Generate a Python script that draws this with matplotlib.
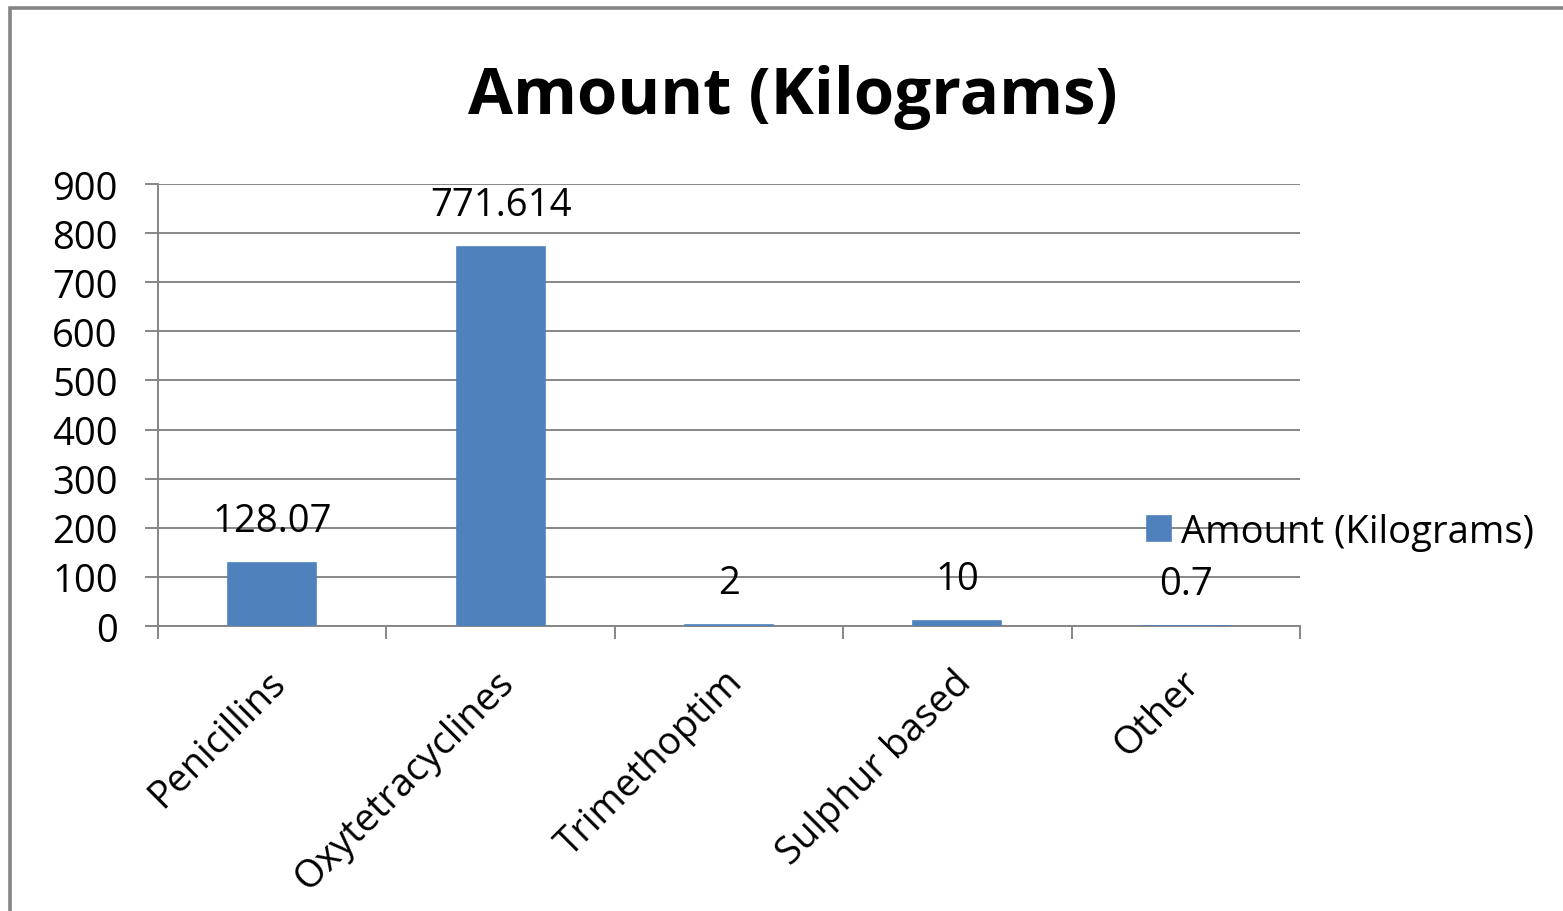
import matplotlib.pyplot as plt
from matplotlib.patches import Rectangle
from matplotlib.transforms import ScaledTranslation
import numpy as np

# data
categories = ['Penicillins', 'Oxytetracyclines', 'Trimethoptim', 'Sulphur based', 'Other']
amounts = [128.07, 771.614, 2, 10, 0.7]
value_labels = ['128.07', '771.614', '2', '10', '0.7']
yticks = [0, 100, 200, 300, 400, 500, 600, 700, 800, 900]

plt.rcParams['font.family'] = ['Open Sans', 'DejaVu Sans']
W, H = 1563, 912
fig = plt.figure(figsize=(W / 100, H / 100), dpi=100)
px = 72 / 100  # one pixel in points
fs = 27.5

# outer chart border
fig.patches.append(Rectangle((9.5 / W, -0.1), 1.2, 1 - 8.5 / H + 0.1, transform=fig.transFigure,
                             fill=False, edgecolor='#858585', linewidth=2.6))

ax = fig.add_axes([158 / W, 1 - 627 / H, (1300 - 158) / W, (627 - 185) / H])
grey = '#868686'
blue = '#4F81BD'
x = np.arange(len(categories))
bars = ax.bar(x, amounts, width=0.385, color=blue, edgecolor=blue, linewidth=1.2,
              label='Amount (Kilograms)', zorder=3)

ax.set_xlim(-0.5, len(categories) - 0.5)
ax.set_ylim(0, 900)
ax.set_yticks(yticks)
ax.set_yticklabels([str(t) for t in yticks], fontsize=fs)
ax.yaxis.grid(True, color=grey, linewidth=1.4)
ax.set_axisbelow(True)

# tick marks at category boundaries, labels at centres
ax.set_xticks(np.arange(-0.5, len(categories), 1.0))
ax.set_xticklabels([])
ax.set_xticks(x, minor=True)
ax.set_xticklabels(categories, minor=True, rotation=45, ha='right', va='center',
                   rotation_mode='anchor', fontsize=fs)
ax.tick_params(axis='x', which='minor', length=0, pad=50 * px)
ax.tick_params(axis='x', which='major', length=13 * px, color=grey, width=1.4)
ax.tick_params(axis='y', length=13 * px, color=grey, width=1.4, pad=27 * px)
shift = ScaledTranslation(8 / 100, 0, fig.dpi_scale_trans)
for lab in ax.get_xticklabels(minor=True):
    lab.set_transform(lab.get_transform() + shift)

for s in ['top', 'right']:
    ax.spines[s].set_visible(False)
for s in ['left', 'bottom']:
    ax.spines[s].set_color(grey)
    ax.spines[s].set_linewidth(1.4)

for b, lab in zip(bars, value_labels):
    ax.annotate(lab, (b.get_x() + b.get_width() / 2, b.get_height()), xytext=(0, 32 * px),
                textcoords='offset points', ha='center', va='baseline', fontsize=fs)

fig.text(793 / W, 1 - 97 / H, 'Amount (Kilograms)', ha='center', va='center',
         fontsize=47, fontweight='bold')

ax.legend(loc='center left', bbox_to_anchor=(1147 / W, 1 - 533 / H), bbox_transform=fig.transFigure,
          frameon=False, fontsize=fs, handlelength=0.63, handleheight=0.63, handletextpad=0.25,
          borderpad=0, borderaxespad=0)

fig.savefig('out.png', dpi=100)
